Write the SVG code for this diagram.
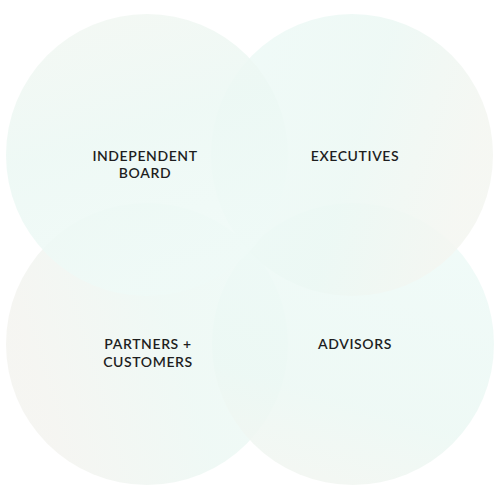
<svg xmlns="http://www.w3.org/2000/svg" width="500" height="500" viewBox="0 0 500 500">
<defs>
<linearGradient id="g1" x1="0" y1="0" x2="0.3" y2="1">
<stop offset="0" stop-color="#f3f7f2"/>
<stop offset="0.5" stop-color="#ecf8f4"/>
<stop offset="1" stop-color="#effaf7"/>
</linearGradient>
<linearGradient id="g2" x1="0" y1="0" x2="1" y2="0.3">
<stop offset="0" stop-color="#eefaf7"/>
<stop offset="0.6" stop-color="#ecf8f4"/>
<stop offset="1" stop-color="#f4f6f1"/>
</linearGradient>
<linearGradient id="g3" x1="0" y1="0.3" x2="1" y2="0">
<stop offset="0" stop-color="#f4f4f0"/>
<stop offset="0.5" stop-color="#edf8f4"/>
<stop offset="1" stop-color="#eefaf7"/>
</linearGradient>
<linearGradient id="g4" x1="0.3" y1="0" x2="0" y2="1">
<stop offset="0" stop-color="#eefaf7"/>
<stop offset="0.6" stop-color="#ecf8f4"/>
<stop offset="1" stop-color="#f4f5f0"/>
</linearGradient>
<style>
.c{fill-opacity:0.88}
.t{font-family:Lato,"Noto Sans",sans-serif;font-size:14px;font-weight:600;letter-spacing:0.6px;fill:#1e1e1e;text-anchor:middle}
</style>
</defs>
<rect width="500" height="500" fill="#ffffff"/>
<g id="partners"><circle class="c" cx="147" cy="344" r="141" fill="url(#g3)"/></g>
<g id="advisors"><circle class="c" cx="353" cy="344" r="141" fill="url(#g4)"/></g>
<g id="executives"><circle class="c" cx="352" cy="155" r="141" fill="url(#g2)"/></g>
<g id="board"><circle class="c" cx="147" cy="155" r="141" fill="url(#g1)"/></g>
<g id="labels">
<text class="t" x="145" y="161">INDEPENDENT</text>
<text class="t" x="145" y="178">BOARD</text>
<text class="t" x="355" y="161">EXECUTIVES</text>
<text class="t" x="148" y="349">PARTNERS +</text>
<text class="t" x="148" y="367">CUSTOMERS</text>
<text class="t" x="355" y="349">ADVISORS</text>
</g>
<g id="connectors"/>
</svg>
